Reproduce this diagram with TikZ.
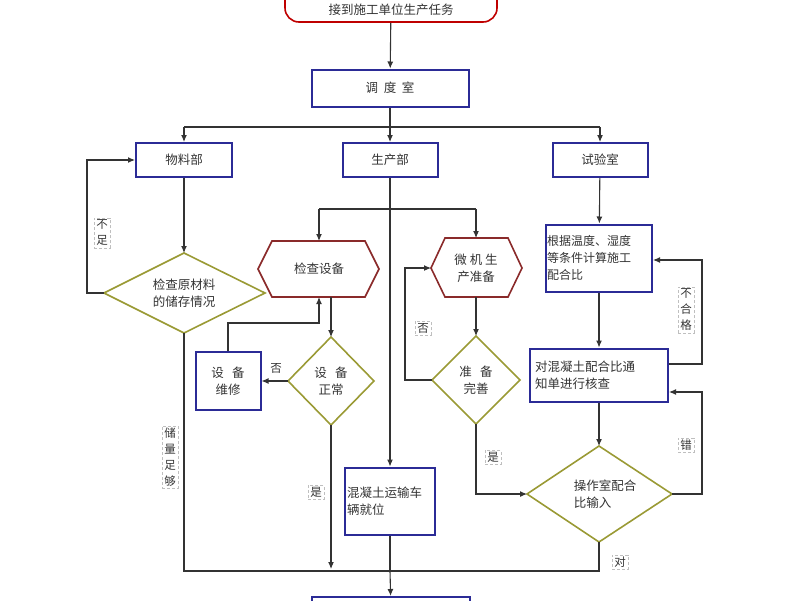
\documentclass[tikz,border=0pt]{standalone}
\usepackage{fontspec}
\setmainfont{Noto Sans CJK SC}
\usetikzlibrary{arrows.meta,shapes.geometric}
\definecolor{bx}{HTML}{2B2B96}
\definecolor{dm}{HTML}{9A9A35}
\definecolor{hx}{HTML}{8A2A2A}
\definecolor{ln}{HTML}{333333}
\begin{document}
\begin{tikzpicture}[x=1pt,y=-1pt,
  every node/.style={font=\fontsize{12.5}{17}\selectfont, text=black!80},
  box/.style={draw=bx, line width=2pt, minimum width=#1, inner sep=2pt},
  lab/.style={draw=gray!50, densely dashed, line width=0.4pt, inner sep=2pt, align=center, font=\fontsize{11.5}{16}\selectfont},
  con/.style={draw=ln, line width=1.1pt},
  arr/.style={con, -{Latex[length=7pt,width=6pt]}}]
\useasboundingbox (0,0) rectangle (800,600);
\begin{scope}
\clip (0,0) rectangle (800,600);
\node[draw=red!75!black, line width=1.6pt, rounded corners=14pt, minimum width=212pt, minimum height=36pt] (start) at (391,4) {};
\node at (391,10) {接到施工单位生产任务};
\node[box=157pt, minimum height=37pt] (dd) at (390,88) {调\ \ 度\ \ 室};
\node[box=96pt, minimum height=34pt] (wl) at (184,160) {物料部};
\node[box=95pt, minimum height=34pt] (sc) at (390,160) {生产部};
\node[box=95pt, minimum height=34pt] (sy) at (600,160) {试验室};
\draw[dm, line width=1.6pt] (104,293) -- (184,253) -- (265,293) -- (184,333) -- cycle;
\node[align=center] (jc) at (184,293) {检查原材料\\的储存情况};
\coordinate (jcL) at (104,293); \coordinate (jcB) at (184,333);
\draw[hx, line width=1.6pt] (258,269) -- (272,241) -- (365,241) -- (379,269) -- (365,297) -- (272,297) -- cycle;
\node (js) at (319,269) {检查设备};
\coordinate (jsT) at (319,241); \coordinate (jsB) at (319,297);
\draw[hx, line width=1.6pt] (431,268) -- (445,238) -- (508,238) -- (522,268) -- (508,297) -- (445,297) -- cycle;
\node[align=center] (wj) at (476,268) {微\ 机\ 生\\产准备};
\coordinate (wjT) at (476,238); \coordinate (wjL) at (431,268); \coordinate (wjB) at (476,297);
\draw[dm, line width=1.6pt] (288,381) -- (331,337) -- (374,381) -- (331,425) -- cycle;
\node[align=center] (zc) at (331,381) {设\ \ \ 备\\正常};
\coordinate (zcT) at (331,337); \coordinate (zcL) at (288,381); \coordinate (zcB) at (331,425);
\node[box=65pt, minimum height=58pt, align=center] (wx) at (228,381) {设\ \ \ 备\\维修};
\draw[dm, line width=1.6pt] (432,380) -- (476,336) -- (520,380) -- (476,424) -- cycle;
\node[align=center] (ws) at (476,380) {准\ \ \ 备\\完善};
\coordinate (wsT) at (476,336); \coordinate (wsL) at (432,380); \coordinate (wsB) at (476,424);
\node[box=90pt, minimum height=67pt, align=left, text width=86pt] (hn) at (390,501) {混凝土运输车\\辆就位};
\node[box=106pt, minimum height=67pt, align=left, text width=104pt, inner sep=1pt, font=\fontsize{12}{17}\selectfont] (gj) at (599,258) {根据温度、湿度\\等条件计算施工\\配合比};
\node[box=138pt, minimum height=53pt, align=left, text width=128pt] (dh) at (599,375) {对混凝土配合比通\\知单进行核查};
\draw[dm, line width=1.6pt] (527,494) -- (599,446) -- (672,494) -- (599,542) -- cycle;
\node[align=left] (cz) at (605,494) {操作室配合\\比输入};
\coordinate (czT) at (599,446); \coordinate (czL) at (527,494); \coordinate (czR) at (672,494); \coordinate (czB) at (599,542);
\node[box=158pt, minimum height=30pt] (end) at (391,612) {};
% connectors
\draw[arr] (start) -- (dd);
\draw[con] (dd) -- (390,127);
\draw[con] (184,127) -- (600,127);
\draw[arr] (184,127) -- (wl);
\draw[arr] (390,127) -- (sc);
\draw[arr] (600,127) -- (sy);
\draw[arr] (wl) -- (184,253);
\draw[arr] (jcL) -- (87,293) -- (87,160) -- (wl.west);
\draw[con] (jcB) -- (184,571) -- (600,571);
\draw[arr] (sc) -- (hn);
\draw[con] (319,209) -- (476,209);
\draw[arr] (319,209) -- (jsT);
\draw[arr] (476,209) -- (wjT);
\draw[arr] (331,297) -- (zcT);
\draw[arr] (zcL) -- (wx.east);
\draw[arr] (wx.north) -- (228,323) -- (319,323) -- (jsB);
\draw[arr] (zcB) -- (331,569);
\draw[arr] (wjB) -- (wsT);
\draw[arr] (wsL) -- (405,380) -- (405,268) -- (wjL);
\draw[arr] (wsB) -- (476,494) -- (czL);
\draw[arr] (sy) -- (gj);
\draw[arr] (gj) -- (dh);
\draw[arr] (dh.east |- 0,364) -- (702,364) -- (702,260) -- (gj.east |- 0,260);
\draw[arr] (dh) -- (czT);
\draw[arr] (czR) -- (702,494) -- (702,392) -- (dh.east |- 0,392);
\draw[con] (czB) -- (599,571);
\draw[con] (hn) -- (390,571);
\draw[arr] (390,571) -- (end);
% labels
\node[lab] (l1) at (102,233) {不\\足};
\node[lab] (l2) at (170,457) {储\\量\\足\\够};
\node[lab, draw=none] (l3) at (276,368) {否};
\node[lab] (l4) at (316,492) {是};
\node[lab] (l5) at (423,328) {否};
\node[lab] (l6) at (493,457) {是};
\node[lab] (l7) at (686,310) {不\\合\\格};
\node[lab] (l8) at (686,445) {错};
\node[lab] (l9) at (620,562) {对};
\end{scope}
\end{tikzpicture}
\end{document}
